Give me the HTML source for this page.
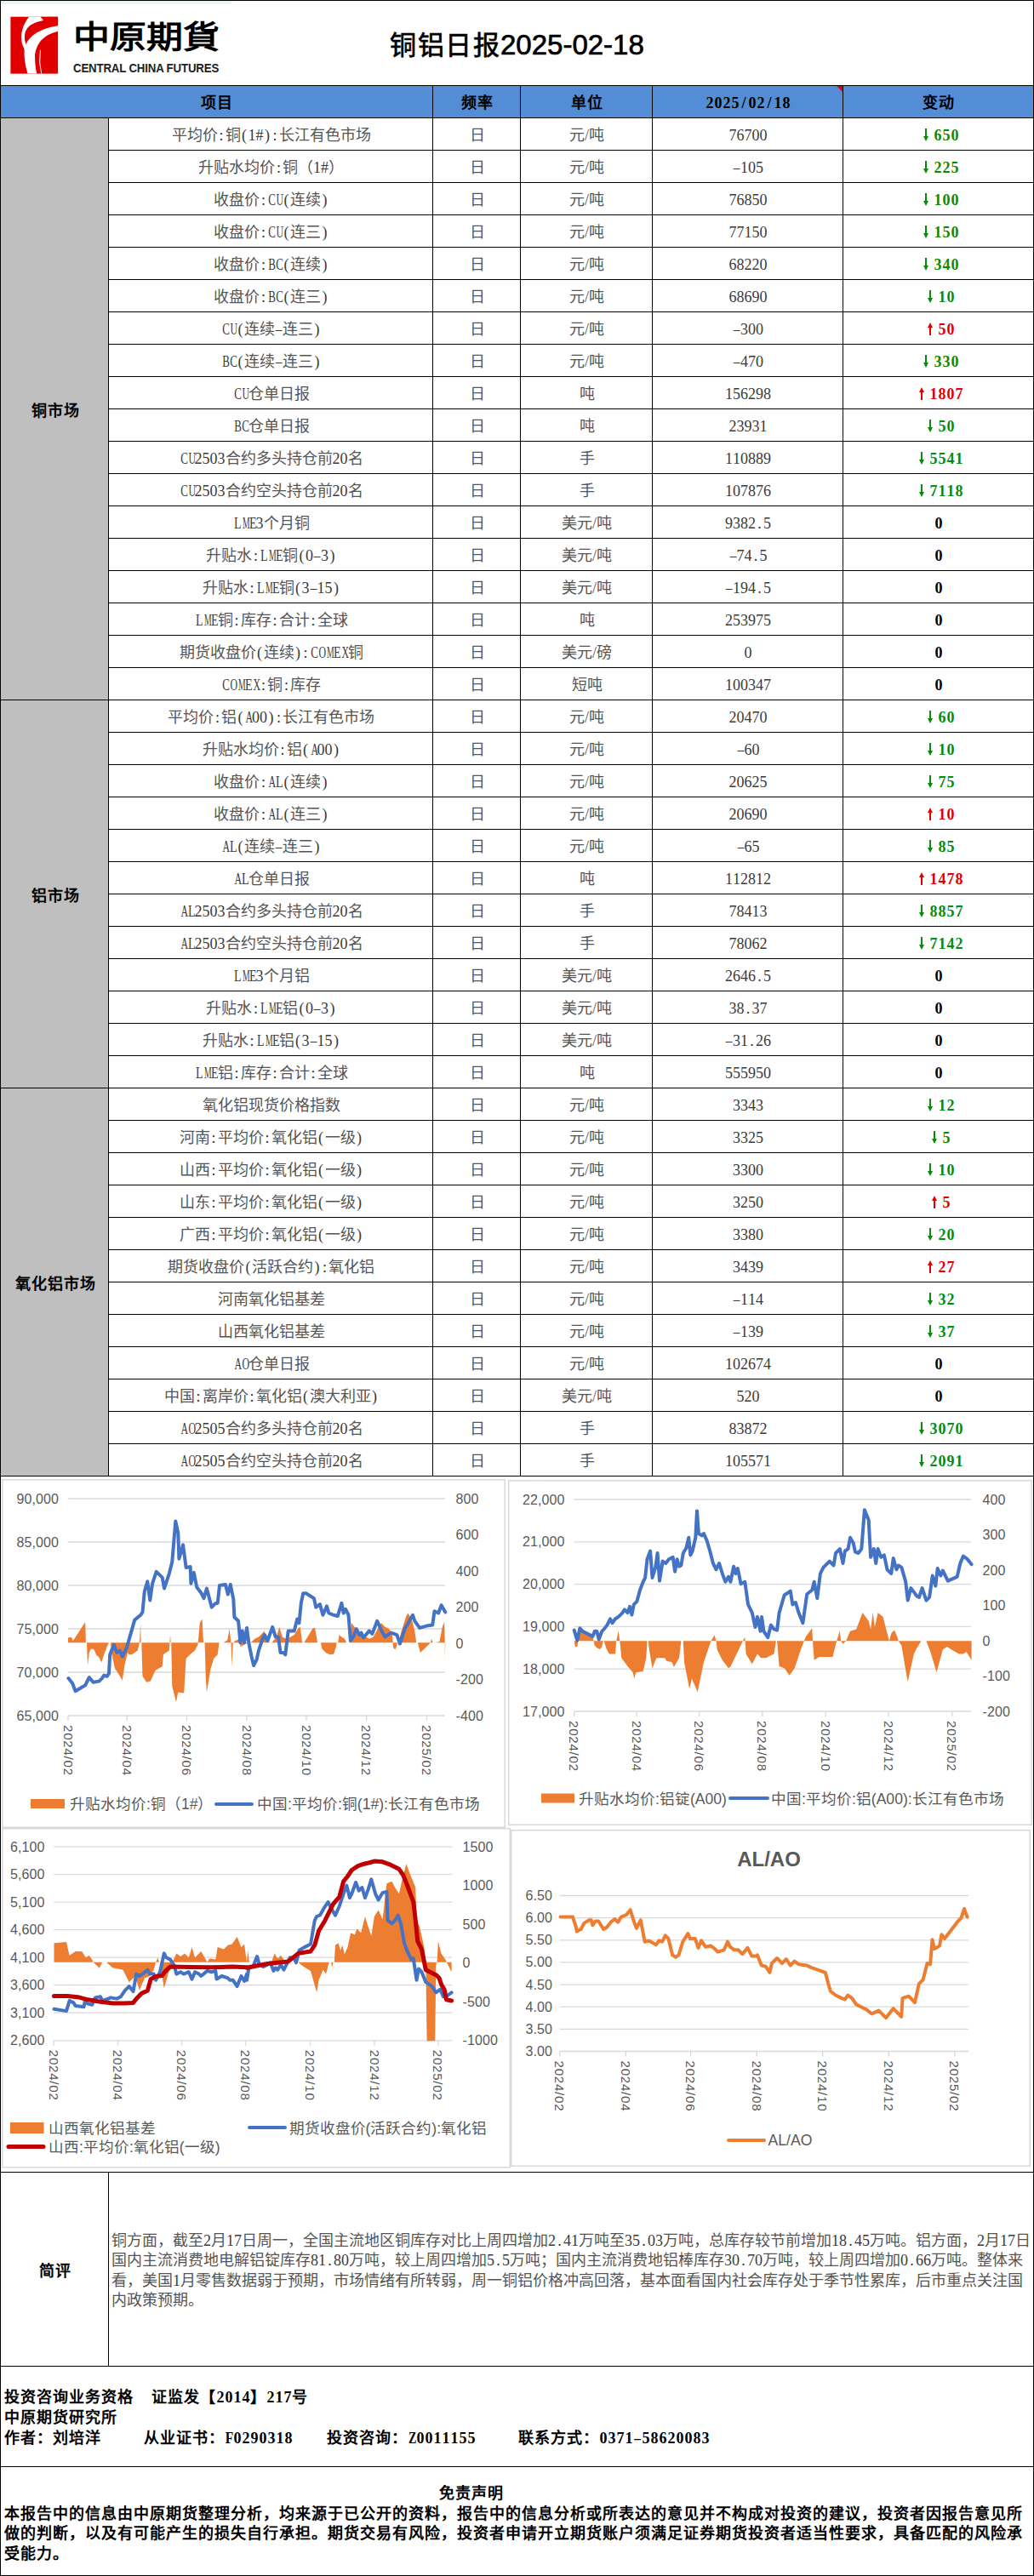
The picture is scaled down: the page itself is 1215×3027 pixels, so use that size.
<!DOCTYPE html>
<html lang="zh-CN"><head><meta charset="utf-8"><style>
html,body{margin:0;padding:0;background:#fff}
body{width:1215px;height:3027px;position:relative;overflow:hidden;font-family:"Liberation Serif",serif}
.l{position:absolute}
.th{position:absolute;height:38px;line-height:42px;padding-left:2px;box-sizing:border-box;text-align:center;font-size:18px;font-weight:bold;color:#000;letter-spacing:1px}
.td{position:absolute;height:38px;line-height:42px;padding-left:2px;box-sizing:border-box;text-align:center;font-size:18px;color:#555;white-space:nowrap}
.num{color:#444}
.chg{font-weight:bold}
.ar{display:inline-block;vertical-align:-2px;width:18px;height:17px}
.sec{position:absolute;text-align:center;padding-left:3px;padding-top:2.5px;box-sizing:border-box;font-size:18px;font-weight:bold;color:#000;letter-spacing:1px}
.cm{position:absolute;font-size:18px;color:#555;white-space:nowrap;line-height:23px}
.bt{position:absolute;font-size:18px;font-weight:bold;color:#000;white-space:nowrap;line-height:24px;letter-spacing:1px}
.title{position:absolute;font-family:"Liberation Sans",sans-serif;font-size:33px;font-weight:400;color:#000;-webkit-text-stroke:0.7px #000;white-space:nowrap;line-height:44px}
.logoT{position:absolute;font-size:37px;font-weight:bold;color:#000;white-space:nowrap;line-height:44px;letter-spacing:0;transform:scaleX(1.16);transform-origin:0 0}
.logoE{position:absolute;font-family:"Liberation Sans",sans-serif;font-size:15px;font-weight:bold;color:#222;white-space:nowrap;line-height:18px;transform-origin:0 0;transform:scaleX(0.885);letter-spacing:-0.2px}
.h{display:inline-block;width:9px;text-align:center;font-style:normal;letter-spacing:0}
.td .h,.cm .h{color:#3a3a3a}
.chg .h{color:inherit}
.bt .h,.th .h,.chg .h{width:10px}
.ct{font-family:"Liberation Sans",sans-serif}
</style></head><body>
<svg class="l" style="left:0;top:0" width="272" height="98" viewBox="0 0 272 98">
<rect x="1" y="1" width="271" height="4" fill="#EAF6F8"/>
<rect x="12.4" y="19.7" width="55.7" height="66.9" fill="#E00000"/>
<path d="M34.0 19.7 L68.1 19.7 L68.1 36.7 Q44.1 42.5 41.0 64.2 Q41.0 78.1 43.3 86.6 L32.5 86.6 Q27.9 71.9 28.6 58.0 Q19.3 39.4 34.0 19.7 Z" fill="#fff"/>
<path d="M47.6 19.7 L51.1 24.1 Q23.2 28.6 30.2 52.2 Q38.7 34.8 68.1 30.3 L68.1 19.7 Z" fill="#E00000"/>
<path d="M47.4 58.7 Q45.3 73.4 48.7 86.6" stroke="#fff" stroke-width="1" fill="none"/>
</svg><div class="logoT" style="left:86px;top:22.5px">中原期貨</div><div class="logoE" style="left:86px;top:70.5px">CENTRAL CHINA FUTURES</div>
<div class="title" style="left:458px;top:31px"><span style="font-size:31px;letter-spacing:1.5px">铜铝日报</span>2025-02-18</div>
<div class="l" style="left:0;top:100px;width:1214px;height:38px;background:#538DD5"></div>
<div class="l" style="left:0;top:138px;width:127px;height:1596px;background:#BFBFBF"></div>
<div class="th" style="left:0px;top:100px;width:508px">项目</div>
<div class="th" style="left:508px;top:100px;width:103px">频率</div>
<div class="th" style="left:611px;top:100px;width:155px">单位</div>
<div class="th" style="left:766px;top:100px;width:224px"><i class="h">2</i><i class="h">0</i><i class="h">2</i><i class="h">5</i><i class="h">/</i><i class="h">0</i><i class="h">2</i><i class="h">/</i><i class="h">1</i><i class="h">8</i></div>
<div class="th" style="left:990px;top:100px;width:224px">变动</div>
<svg class="l" style="left:983px;top:101px" width="7" height="7"><path d="M0 0 L7 0 L7 7 Z" fill="#E00000"/></svg>
<div class="td" style="left:127px;top:138px;width:381px">平均价<i class="h">:</i>铜<i class="h">(</i><i class="h">1</i><i class="h">#</i><i class="h">)</i><i class="h">:</i>长江有色市场</div>
<div class="td" style="left:508px;top:138px;width:103px">日</div>
<div class="td" style="left:611px;top:138px;width:155px">元/吨</div>
<div class="td num" style="left:766px;top:138px;width:224px"><i class="h">7</i><i class="h">6</i><i class="h">7</i><i class="h">0</i><i class="h">0</i></div>
<div class="td chg" style="left:990px;top:138px;width:224px;color:#0A8A0A"><svg class="ar" width="18" height="17" viewBox="0 0 18 17"><path d="M9 16 L12 10 L10 10 L10 1 L8 1 L8 10 L6 10 Z" fill="#0A8A0A"/></svg><i class="h">6</i><i class="h">5</i><i class="h">0</i></div>
<div class="td" style="left:127px;top:176px;width:381px">升贴水均价<i class="h">:</i>铜（<i class="h">1</i><i class="h">#</i>）</div>
<div class="td" style="left:508px;top:176px;width:103px">日</div>
<div class="td" style="left:611px;top:176px;width:155px">元/吨</div>
<div class="td num" style="left:766px;top:176px;width:224px"><i class="h" style="transform:scaleX(0.85)">&#8211;</i><i class="h">1</i><i class="h">0</i><i class="h">5</i></div>
<div class="td chg" style="left:990px;top:176px;width:224px;color:#0A8A0A"><svg class="ar" width="18" height="17" viewBox="0 0 18 17"><path d="M9 16 L12 10 L10 10 L10 1 L8 1 L8 10 L6 10 Z" fill="#0A8A0A"/></svg><i class="h">2</i><i class="h">2</i><i class="h">5</i></div>
<div class="td" style="left:127px;top:214px;width:381px">收盘价<i class="h">:</i><i class="h" style="transform:scaleX(0.72)">C</i><i class="h" style="transform:scaleX(0.66)">U</i><i class="h">(</i>连续<i class="h">)</i></div>
<div class="td" style="left:508px;top:214px;width:103px">日</div>
<div class="td" style="left:611px;top:214px;width:155px">元/吨</div>
<div class="td num" style="left:766px;top:214px;width:224px"><i class="h">7</i><i class="h">6</i><i class="h">8</i><i class="h">5</i><i class="h">0</i></div>
<div class="td chg" style="left:990px;top:214px;width:224px;color:#0A8A0A"><svg class="ar" width="18" height="17" viewBox="0 0 18 17"><path d="M9 16 L12 10 L10 10 L10 1 L8 1 L8 10 L6 10 Z" fill="#0A8A0A"/></svg><i class="h">1</i><i class="h">0</i><i class="h">0</i></div>
<div class="td" style="left:127px;top:252px;width:381px">收盘价<i class="h">:</i><i class="h" style="transform:scaleX(0.72)">C</i><i class="h" style="transform:scaleX(0.66)">U</i><i class="h">(</i>连三<i class="h">)</i></div>
<div class="td" style="left:508px;top:252px;width:103px">日</div>
<div class="td" style="left:611px;top:252px;width:155px">元/吨</div>
<div class="td num" style="left:766px;top:252px;width:224px"><i class="h">7</i><i class="h">7</i><i class="h">1</i><i class="h">5</i><i class="h">0</i></div>
<div class="td chg" style="left:990px;top:252px;width:224px;color:#0A8A0A"><svg class="ar" width="18" height="17" viewBox="0 0 18 17"><path d="M9 16 L12 10 L10 10 L10 1 L8 1 L8 10 L6 10 Z" fill="#0A8A0A"/></svg><i class="h">1</i><i class="h">5</i><i class="h">0</i></div>
<div class="td" style="left:127px;top:290px;width:381px">收盘价<i class="h">:</i><i class="h" style="transform:scaleX(0.72)">B</i><i class="h" style="transform:scaleX(0.72)">C</i><i class="h">(</i>连续<i class="h">)</i></div>
<div class="td" style="left:508px;top:290px;width:103px">日</div>
<div class="td" style="left:611px;top:290px;width:155px">元/吨</div>
<div class="td num" style="left:766px;top:290px;width:224px"><i class="h">6</i><i class="h">8</i><i class="h">2</i><i class="h">2</i><i class="h">0</i></div>
<div class="td chg" style="left:990px;top:290px;width:224px;color:#0A8A0A"><svg class="ar" width="18" height="17" viewBox="0 0 18 17"><path d="M9 16 L12 10 L10 10 L10 1 L8 1 L8 10 L6 10 Z" fill="#0A8A0A"/></svg><i class="h">3</i><i class="h">4</i><i class="h">0</i></div>
<div class="td" style="left:127px;top:328px;width:381px">收盘价<i class="h">:</i><i class="h" style="transform:scaleX(0.72)">B</i><i class="h" style="transform:scaleX(0.72)">C</i><i class="h">(</i>连三<i class="h">)</i></div>
<div class="td" style="left:508px;top:328px;width:103px">日</div>
<div class="td" style="left:611px;top:328px;width:155px">元/吨</div>
<div class="td num" style="left:766px;top:328px;width:224px"><i class="h">6</i><i class="h">8</i><i class="h">6</i><i class="h">9</i><i class="h">0</i></div>
<div class="td chg" style="left:990px;top:328px;width:224px;color:#0A8A0A"><svg class="ar" width="18" height="17" viewBox="0 0 18 17"><path d="M9 16 L12 10 L10 10 L10 1 L8 1 L8 10 L6 10 Z" fill="#0A8A0A"/></svg><i class="h">1</i><i class="h">0</i></div>
<div class="td" style="left:127px;top:366px;width:381px"><i class="h" style="transform:scaleX(0.72)">C</i><i class="h" style="transform:scaleX(0.66)">U</i><i class="h">(</i>连续<i class="h" style="transform:scaleX(0.85)">&#8211;</i>连三<i class="h">)</i></div>
<div class="td" style="left:508px;top:366px;width:103px">日</div>
<div class="td" style="left:611px;top:366px;width:155px">元/吨</div>
<div class="td num" style="left:766px;top:366px;width:224px"><i class="h" style="transform:scaleX(0.85)">&#8211;</i><i class="h">3</i><i class="h">0</i><i class="h">0</i></div>
<div class="td chg" style="left:990px;top:366px;width:224px;color:#E00000"><svg class="ar" width="18" height="17" viewBox="0 0 18 17"><path d="M9 1 L12 7 L10 7 L10 16 L8 16 L8 7 L6 7 Z" fill="#E00000"/></svg><i class="h">5</i><i class="h">0</i></div>
<div class="td" style="left:127px;top:404px;width:381px"><i class="h" style="transform:scaleX(0.72)">B</i><i class="h" style="transform:scaleX(0.72)">C</i><i class="h">(</i>连续<i class="h" style="transform:scaleX(0.85)">&#8211;</i>连三<i class="h">)</i></div>
<div class="td" style="left:508px;top:404px;width:103px">日</div>
<div class="td" style="left:611px;top:404px;width:155px">元/吨</div>
<div class="td num" style="left:766px;top:404px;width:224px"><i class="h" style="transform:scaleX(0.85)">&#8211;</i><i class="h">4</i><i class="h">7</i><i class="h">0</i></div>
<div class="td chg" style="left:990px;top:404px;width:224px;color:#0A8A0A"><svg class="ar" width="18" height="17" viewBox="0 0 18 17"><path d="M9 16 L12 10 L10 10 L10 1 L8 1 L8 10 L6 10 Z" fill="#0A8A0A"/></svg><i class="h">3</i><i class="h">3</i><i class="h">0</i></div>
<div class="td" style="left:127px;top:442px;width:381px"><i class="h" style="transform:scaleX(0.72)">C</i><i class="h" style="transform:scaleX(0.66)">U</i>仓单日报</div>
<div class="td" style="left:508px;top:442px;width:103px">日</div>
<div class="td" style="left:611px;top:442px;width:155px">吨</div>
<div class="td num" style="left:766px;top:442px;width:224px"><i class="h">1</i><i class="h">5</i><i class="h">6</i><i class="h">2</i><i class="h">9</i><i class="h">8</i></div>
<div class="td chg" style="left:990px;top:442px;width:224px;color:#E00000"><svg class="ar" width="18" height="17" viewBox="0 0 18 17"><path d="M9 1 L12 7 L10 7 L10 16 L8 16 L8 7 L6 7 Z" fill="#E00000"/></svg><i class="h">1</i><i class="h">8</i><i class="h">0</i><i class="h">7</i></div>
<div class="td" style="left:127px;top:480px;width:381px"><i class="h" style="transform:scaleX(0.72)">B</i><i class="h" style="transform:scaleX(0.72)">C</i>仓单日报</div>
<div class="td" style="left:508px;top:480px;width:103px">日</div>
<div class="td" style="left:611px;top:480px;width:155px">吨</div>
<div class="td num" style="left:766px;top:480px;width:224px"><i class="h">2</i><i class="h">3</i><i class="h">9</i><i class="h">3</i><i class="h">1</i></div>
<div class="td chg" style="left:990px;top:480px;width:224px;color:#0A8A0A"><svg class="ar" width="18" height="17" viewBox="0 0 18 17"><path d="M9 16 L12 10 L10 10 L10 1 L8 1 L8 10 L6 10 Z" fill="#0A8A0A"/></svg><i class="h">5</i><i class="h">0</i></div>
<div class="td" style="left:127px;top:518px;width:381px"><i class="h" style="transform:scaleX(0.72)">C</i><i class="h" style="transform:scaleX(0.66)">U</i><i class="h">2</i><i class="h">5</i><i class="h">0</i><i class="h">3</i>合约多头持仓前<i class="h">2</i><i class="h">0</i>名</div>
<div class="td" style="left:508px;top:518px;width:103px">日</div>
<div class="td" style="left:611px;top:518px;width:155px">手</div>
<div class="td num" style="left:766px;top:518px;width:224px"><i class="h">1</i><i class="h">1</i><i class="h">0</i><i class="h">8</i><i class="h">8</i><i class="h">9</i></div>
<div class="td chg" style="left:990px;top:518px;width:224px;color:#0A8A0A"><svg class="ar" width="18" height="17" viewBox="0 0 18 17"><path d="M9 16 L12 10 L10 10 L10 1 L8 1 L8 10 L6 10 Z" fill="#0A8A0A"/></svg><i class="h">5</i><i class="h">5</i><i class="h">4</i><i class="h">1</i></div>
<div class="td" style="left:127px;top:556px;width:381px"><i class="h" style="transform:scaleX(0.72)">C</i><i class="h" style="transform:scaleX(0.66)">U</i><i class="h">2</i><i class="h">5</i><i class="h">0</i><i class="h">3</i>合约空头持仓前<i class="h">2</i><i class="h">0</i>名</div>
<div class="td" style="left:508px;top:556px;width:103px">日</div>
<div class="td" style="left:611px;top:556px;width:155px">手</div>
<div class="td num" style="left:766px;top:556px;width:224px"><i class="h">1</i><i class="h">0</i><i class="h">7</i><i class="h">8</i><i class="h">7</i><i class="h">6</i></div>
<div class="td chg" style="left:990px;top:556px;width:224px;color:#0A8A0A"><svg class="ar" width="18" height="17" viewBox="0 0 18 17"><path d="M9 16 L12 10 L10 10 L10 1 L8 1 L8 10 L6 10 Z" fill="#0A8A0A"/></svg><i class="h">7</i><i class="h">1</i><i class="h">1</i><i class="h">8</i></div>
<div class="td" style="left:127px;top:594px;width:381px"><i class="h" style="transform:scaleX(0.78)">L</i><i class="h" style="transform:scaleX(0.54)">M</i><i class="h" style="transform:scaleX(0.78)">E</i><i class="h">3</i>个月铜</div>
<div class="td" style="left:508px;top:594px;width:103px">日</div>
<div class="td" style="left:611px;top:594px;width:155px">美元/吨</div>
<div class="td num" style="left:766px;top:594px;width:224px"><i class="h">9</i><i class="h">3</i><i class="h">8</i><i class="h">2</i><i class="h">.</i><i class="h">5</i></div>
<div class="td chg" style="left:990px;top:594px;width:224px;color:#000"><i class="h">0</i></div>
<div class="td" style="left:127px;top:632px;width:381px">升贴水<i class="h">:</i><i class="h" style="transform:scaleX(0.78)">L</i><i class="h" style="transform:scaleX(0.54)">M</i><i class="h" style="transform:scaleX(0.78)">E</i>铜<i class="h">(</i><i class="h">0</i><i class="h" style="transform:scaleX(0.85)">&#8211;</i><i class="h">3</i><i class="h">)</i></div>
<div class="td" style="left:508px;top:632px;width:103px">日</div>
<div class="td" style="left:611px;top:632px;width:155px">美元/吨</div>
<div class="td num" style="left:766px;top:632px;width:224px"><i class="h" style="transform:scaleX(0.85)">&#8211;</i><i class="h">7</i><i class="h">4</i><i class="h">.</i><i class="h">5</i></div>
<div class="td chg" style="left:990px;top:632px;width:224px;color:#000"><i class="h">0</i></div>
<div class="td" style="left:127px;top:670px;width:381px">升贴水<i class="h">:</i><i class="h" style="transform:scaleX(0.78)">L</i><i class="h" style="transform:scaleX(0.54)">M</i><i class="h" style="transform:scaleX(0.78)">E</i>铜<i class="h">(</i><i class="h">3</i><i class="h" style="transform:scaleX(0.85)">&#8211;</i><i class="h">1</i><i class="h">5</i><i class="h">)</i></div>
<div class="td" style="left:508px;top:670px;width:103px">日</div>
<div class="td" style="left:611px;top:670px;width:155px">美元/吨</div>
<div class="td num" style="left:766px;top:670px;width:224px"><i class="h" style="transform:scaleX(0.85)">&#8211;</i><i class="h">1</i><i class="h">9</i><i class="h">4</i><i class="h">.</i><i class="h">5</i></div>
<div class="td chg" style="left:990px;top:670px;width:224px;color:#000"><i class="h">0</i></div>
<div class="td" style="left:127px;top:708px;width:381px"><i class="h" style="transform:scaleX(0.78)">L</i><i class="h" style="transform:scaleX(0.54)">M</i><i class="h" style="transform:scaleX(0.78)">E</i>铜<i class="h">:</i>库存<i class="h">:</i>合计<i class="h">:</i>全球</div>
<div class="td" style="left:508px;top:708px;width:103px">日</div>
<div class="td" style="left:611px;top:708px;width:155px">吨</div>
<div class="td num" style="left:766px;top:708px;width:224px"><i class="h">2</i><i class="h">5</i><i class="h">3</i><i class="h">9</i><i class="h">7</i><i class="h">5</i></div>
<div class="td chg" style="left:990px;top:708px;width:224px;color:#000"><i class="h">0</i></div>
<div class="td" style="left:127px;top:746px;width:381px">期货收盘价<i class="h">(</i>连续<i class="h">)</i><i class="h">:</i><i class="h" style="transform:scaleX(0.72)">C</i><i class="h" style="transform:scaleX(0.66)">O</i><i class="h" style="transform:scaleX(0.54)">M</i><i class="h" style="transform:scaleX(0.78)">E</i><i class="h" style="transform:scaleX(0.66)">X</i>铜</div>
<div class="td" style="left:508px;top:746px;width:103px">日</div>
<div class="td" style="left:611px;top:746px;width:155px">美元/磅</div>
<div class="td num" style="left:766px;top:746px;width:224px"><i class="h">0</i></div>
<div class="td chg" style="left:990px;top:746px;width:224px;color:#000"><i class="h">0</i></div>
<div class="td" style="left:127px;top:784px;width:381px"><i class="h" style="transform:scaleX(0.72)">C</i><i class="h" style="transform:scaleX(0.66)">O</i><i class="h" style="transform:scaleX(0.54)">M</i><i class="h" style="transform:scaleX(0.78)">E</i><i class="h" style="transform:scaleX(0.66)">X</i><i class="h">:</i>铜<i class="h">:</i>库存</div>
<div class="td" style="left:508px;top:784px;width:103px">日</div>
<div class="td" style="left:611px;top:784px;width:155px">短吨</div>
<div class="td num" style="left:766px;top:784px;width:224px"><i class="h">1</i><i class="h">0</i><i class="h">0</i><i class="h">3</i><i class="h">4</i><i class="h">7</i></div>
<div class="td chg" style="left:990px;top:784px;width:224px;color:#000"><i class="h">0</i></div>
<div class="td" style="left:127px;top:822px;width:381px">平均价<i class="h">:</i>铝<i class="h">(</i><i class="h" style="transform:scaleX(0.66)">A</i><i class="h">0</i><i class="h">0</i><i class="h">)</i><i class="h">:</i>长江有色市场</div>
<div class="td" style="left:508px;top:822px;width:103px">日</div>
<div class="td" style="left:611px;top:822px;width:155px">元/吨</div>
<div class="td num" style="left:766px;top:822px;width:224px"><i class="h">2</i><i class="h">0</i><i class="h">4</i><i class="h">7</i><i class="h">0</i></div>
<div class="td chg" style="left:990px;top:822px;width:224px;color:#0A8A0A"><svg class="ar" width="18" height="17" viewBox="0 0 18 17"><path d="M9 16 L12 10 L10 10 L10 1 L8 1 L8 10 L6 10 Z" fill="#0A8A0A"/></svg><i class="h">6</i><i class="h">0</i></div>
<div class="td" style="left:127px;top:860px;width:381px">升贴水均价<i class="h">:</i>铝<i class="h">(</i><i class="h" style="transform:scaleX(0.66)">A</i><i class="h">0</i><i class="h">0</i><i class="h">)</i></div>
<div class="td" style="left:508px;top:860px;width:103px">日</div>
<div class="td" style="left:611px;top:860px;width:155px">元/吨</div>
<div class="td num" style="left:766px;top:860px;width:224px"><i class="h" style="transform:scaleX(0.85)">&#8211;</i><i class="h">6</i><i class="h">0</i></div>
<div class="td chg" style="left:990px;top:860px;width:224px;color:#0A8A0A"><svg class="ar" width="18" height="17" viewBox="0 0 18 17"><path d="M9 16 L12 10 L10 10 L10 1 L8 1 L8 10 L6 10 Z" fill="#0A8A0A"/></svg><i class="h">1</i><i class="h">0</i></div>
<div class="td" style="left:127px;top:898px;width:381px">收盘价<i class="h">:</i><i class="h" style="transform:scaleX(0.66)">A</i><i class="h" style="transform:scaleX(0.78)">L</i><i class="h">(</i>连续<i class="h">)</i></div>
<div class="td" style="left:508px;top:898px;width:103px">日</div>
<div class="td" style="left:611px;top:898px;width:155px">元/吨</div>
<div class="td num" style="left:766px;top:898px;width:224px"><i class="h">2</i><i class="h">0</i><i class="h">6</i><i class="h">2</i><i class="h">5</i></div>
<div class="td chg" style="left:990px;top:898px;width:224px;color:#0A8A0A"><svg class="ar" width="18" height="17" viewBox="0 0 18 17"><path d="M9 16 L12 10 L10 10 L10 1 L8 1 L8 10 L6 10 Z" fill="#0A8A0A"/></svg><i class="h">7</i><i class="h">5</i></div>
<div class="td" style="left:127px;top:936px;width:381px">收盘价<i class="h">:</i><i class="h" style="transform:scaleX(0.66)">A</i><i class="h" style="transform:scaleX(0.78)">L</i><i class="h">(</i>连三<i class="h">)</i></div>
<div class="td" style="left:508px;top:936px;width:103px">日</div>
<div class="td" style="left:611px;top:936px;width:155px">元/吨</div>
<div class="td num" style="left:766px;top:936px;width:224px"><i class="h">2</i><i class="h">0</i><i class="h">6</i><i class="h">9</i><i class="h">0</i></div>
<div class="td chg" style="left:990px;top:936px;width:224px;color:#E00000"><svg class="ar" width="18" height="17" viewBox="0 0 18 17"><path d="M9 1 L12 7 L10 7 L10 16 L8 16 L8 7 L6 7 Z" fill="#E00000"/></svg><i class="h">1</i><i class="h">0</i></div>
<div class="td" style="left:127px;top:974px;width:381px"><i class="h" style="transform:scaleX(0.66)">A</i><i class="h" style="transform:scaleX(0.78)">L</i><i class="h">(</i>连续<i class="h" style="transform:scaleX(0.85)">&#8211;</i>连三<i class="h">)</i></div>
<div class="td" style="left:508px;top:974px;width:103px">日</div>
<div class="td" style="left:611px;top:974px;width:155px">元/吨</div>
<div class="td num" style="left:766px;top:974px;width:224px"><i class="h" style="transform:scaleX(0.85)">&#8211;</i><i class="h">6</i><i class="h">5</i></div>
<div class="td chg" style="left:990px;top:974px;width:224px;color:#0A8A0A"><svg class="ar" width="18" height="17" viewBox="0 0 18 17"><path d="M9 16 L12 10 L10 10 L10 1 L8 1 L8 10 L6 10 Z" fill="#0A8A0A"/></svg><i class="h">8</i><i class="h">5</i></div>
<div class="td" style="left:127px;top:1012px;width:381px"><i class="h" style="transform:scaleX(0.66)">A</i><i class="h" style="transform:scaleX(0.78)">L</i>仓单日报</div>
<div class="td" style="left:508px;top:1012px;width:103px">日</div>
<div class="td" style="left:611px;top:1012px;width:155px">吨</div>
<div class="td num" style="left:766px;top:1012px;width:224px"><i class="h">1</i><i class="h">1</i><i class="h">2</i><i class="h">8</i><i class="h">1</i><i class="h">2</i></div>
<div class="td chg" style="left:990px;top:1012px;width:224px;color:#E00000"><svg class="ar" width="18" height="17" viewBox="0 0 18 17"><path d="M9 1 L12 7 L10 7 L10 16 L8 16 L8 7 L6 7 Z" fill="#E00000"/></svg><i class="h">1</i><i class="h">4</i><i class="h">7</i><i class="h">8</i></div>
<div class="td" style="left:127px;top:1050px;width:381px"><i class="h" style="transform:scaleX(0.66)">A</i><i class="h" style="transform:scaleX(0.78)">L</i><i class="h">2</i><i class="h">5</i><i class="h">0</i><i class="h">3</i>合约多头持仓前<i class="h">2</i><i class="h">0</i>名</div>
<div class="td" style="left:508px;top:1050px;width:103px">日</div>
<div class="td" style="left:611px;top:1050px;width:155px">手</div>
<div class="td num" style="left:766px;top:1050px;width:224px"><i class="h">7</i><i class="h">8</i><i class="h">4</i><i class="h">1</i><i class="h">3</i></div>
<div class="td chg" style="left:990px;top:1050px;width:224px;color:#0A8A0A"><svg class="ar" width="18" height="17" viewBox="0 0 18 17"><path d="M9 16 L12 10 L10 10 L10 1 L8 1 L8 10 L6 10 Z" fill="#0A8A0A"/></svg><i class="h">8</i><i class="h">8</i><i class="h">5</i><i class="h">7</i></div>
<div class="td" style="left:127px;top:1088px;width:381px"><i class="h" style="transform:scaleX(0.66)">A</i><i class="h" style="transform:scaleX(0.78)">L</i><i class="h">2</i><i class="h">5</i><i class="h">0</i><i class="h">3</i>合约空头持仓前<i class="h">2</i><i class="h">0</i>名</div>
<div class="td" style="left:508px;top:1088px;width:103px">日</div>
<div class="td" style="left:611px;top:1088px;width:155px">手</div>
<div class="td num" style="left:766px;top:1088px;width:224px"><i class="h">7</i><i class="h">8</i><i class="h">0</i><i class="h">6</i><i class="h">2</i></div>
<div class="td chg" style="left:990px;top:1088px;width:224px;color:#0A8A0A"><svg class="ar" width="18" height="17" viewBox="0 0 18 17"><path d="M9 16 L12 10 L10 10 L10 1 L8 1 L8 10 L6 10 Z" fill="#0A8A0A"/></svg><i class="h">7</i><i class="h">1</i><i class="h">4</i><i class="h">2</i></div>
<div class="td" style="left:127px;top:1126px;width:381px"><i class="h" style="transform:scaleX(0.78)">L</i><i class="h" style="transform:scaleX(0.54)">M</i><i class="h" style="transform:scaleX(0.78)">E</i><i class="h">3</i>个月铝</div>
<div class="td" style="left:508px;top:1126px;width:103px">日</div>
<div class="td" style="left:611px;top:1126px;width:155px">美元/吨</div>
<div class="td num" style="left:766px;top:1126px;width:224px"><i class="h">2</i><i class="h">6</i><i class="h">4</i><i class="h">6</i><i class="h">.</i><i class="h">5</i></div>
<div class="td chg" style="left:990px;top:1126px;width:224px;color:#000"><i class="h">0</i></div>
<div class="td" style="left:127px;top:1164px;width:381px">升贴水<i class="h">:</i><i class="h" style="transform:scaleX(0.78)">L</i><i class="h" style="transform:scaleX(0.54)">M</i><i class="h" style="transform:scaleX(0.78)">E</i>铝<i class="h">(</i><i class="h">0</i><i class="h" style="transform:scaleX(0.85)">&#8211;</i><i class="h">3</i><i class="h">)</i></div>
<div class="td" style="left:508px;top:1164px;width:103px">日</div>
<div class="td" style="left:611px;top:1164px;width:155px">美元/吨</div>
<div class="td num" style="left:766px;top:1164px;width:224px"><i class="h">3</i><i class="h">8</i><i class="h">.</i><i class="h">3</i><i class="h">7</i></div>
<div class="td chg" style="left:990px;top:1164px;width:224px;color:#000"><i class="h">0</i></div>
<div class="td" style="left:127px;top:1202px;width:381px">升贴水<i class="h">:</i><i class="h" style="transform:scaleX(0.78)">L</i><i class="h" style="transform:scaleX(0.54)">M</i><i class="h" style="transform:scaleX(0.78)">E</i>铝<i class="h">(</i><i class="h">3</i><i class="h" style="transform:scaleX(0.85)">&#8211;</i><i class="h">1</i><i class="h">5</i><i class="h">)</i></div>
<div class="td" style="left:508px;top:1202px;width:103px">日</div>
<div class="td" style="left:611px;top:1202px;width:155px">美元/吨</div>
<div class="td num" style="left:766px;top:1202px;width:224px"><i class="h" style="transform:scaleX(0.85)">&#8211;</i><i class="h">3</i><i class="h">1</i><i class="h">.</i><i class="h">2</i><i class="h">6</i></div>
<div class="td chg" style="left:990px;top:1202px;width:224px;color:#000"><i class="h">0</i></div>
<div class="td" style="left:127px;top:1240px;width:381px"><i class="h" style="transform:scaleX(0.78)">L</i><i class="h" style="transform:scaleX(0.54)">M</i><i class="h" style="transform:scaleX(0.78)">E</i>铝<i class="h">:</i>库存<i class="h">:</i>合计<i class="h">:</i>全球</div>
<div class="td" style="left:508px;top:1240px;width:103px">日</div>
<div class="td" style="left:611px;top:1240px;width:155px">吨</div>
<div class="td num" style="left:766px;top:1240px;width:224px"><i class="h">5</i><i class="h">5</i><i class="h">5</i><i class="h">9</i><i class="h">5</i><i class="h">0</i></div>
<div class="td chg" style="left:990px;top:1240px;width:224px;color:#000"><i class="h">0</i></div>
<div class="td" style="left:127px;top:1278px;width:381px">氧化铝现货价格指数</div>
<div class="td" style="left:508px;top:1278px;width:103px">日</div>
<div class="td" style="left:611px;top:1278px;width:155px">元/吨</div>
<div class="td num" style="left:766px;top:1278px;width:224px"><i class="h">3</i><i class="h">3</i><i class="h">4</i><i class="h">3</i></div>
<div class="td chg" style="left:990px;top:1278px;width:224px;color:#0A8A0A"><svg class="ar" width="18" height="17" viewBox="0 0 18 17"><path d="M9 16 L12 10 L10 10 L10 1 L8 1 L8 10 L6 10 Z" fill="#0A8A0A"/></svg><i class="h">1</i><i class="h">2</i></div>
<div class="td" style="left:127px;top:1316px;width:381px">河南<i class="h">:</i>平均价<i class="h">:</i>氧化铝<i class="h">(</i>一级<i class="h">)</i></div>
<div class="td" style="left:508px;top:1316px;width:103px">日</div>
<div class="td" style="left:611px;top:1316px;width:155px">元/吨</div>
<div class="td num" style="left:766px;top:1316px;width:224px"><i class="h">3</i><i class="h">3</i><i class="h">2</i><i class="h">5</i></div>
<div class="td chg" style="left:990px;top:1316px;width:224px;color:#0A8A0A"><svg class="ar" width="18" height="17" viewBox="0 0 18 17"><path d="M9 16 L12 10 L10 10 L10 1 L8 1 L8 10 L6 10 Z" fill="#0A8A0A"/></svg><i class="h">5</i></div>
<div class="td" style="left:127px;top:1354px;width:381px">山西<i class="h">:</i>平均价<i class="h">:</i>氧化铝<i class="h">(</i>一级<i class="h">)</i></div>
<div class="td" style="left:508px;top:1354px;width:103px">日</div>
<div class="td" style="left:611px;top:1354px;width:155px">元/吨</div>
<div class="td num" style="left:766px;top:1354px;width:224px"><i class="h">3</i><i class="h">3</i><i class="h">0</i><i class="h">0</i></div>
<div class="td chg" style="left:990px;top:1354px;width:224px;color:#0A8A0A"><svg class="ar" width="18" height="17" viewBox="0 0 18 17"><path d="M9 16 L12 10 L10 10 L10 1 L8 1 L8 10 L6 10 Z" fill="#0A8A0A"/></svg><i class="h">1</i><i class="h">0</i></div>
<div class="td" style="left:127px;top:1392px;width:381px">山东<i class="h">:</i>平均价<i class="h">:</i>氧化铝<i class="h">(</i>一级<i class="h">)</i></div>
<div class="td" style="left:508px;top:1392px;width:103px">日</div>
<div class="td" style="left:611px;top:1392px;width:155px">元/吨</div>
<div class="td num" style="left:766px;top:1392px;width:224px"><i class="h">3</i><i class="h">2</i><i class="h">5</i><i class="h">0</i></div>
<div class="td chg" style="left:990px;top:1392px;width:224px;color:#E00000"><svg class="ar" width="18" height="17" viewBox="0 0 18 17"><path d="M9 1 L12 7 L10 7 L10 16 L8 16 L8 7 L6 7 Z" fill="#E00000"/></svg><i class="h">5</i></div>
<div class="td" style="left:127px;top:1430px;width:381px">广西<i class="h">:</i>平均价<i class="h">:</i>氧化铝<i class="h">(</i>一级<i class="h">)</i></div>
<div class="td" style="left:508px;top:1430px;width:103px">日</div>
<div class="td" style="left:611px;top:1430px;width:155px">元/吨</div>
<div class="td num" style="left:766px;top:1430px;width:224px"><i class="h">3</i><i class="h">3</i><i class="h">8</i><i class="h">0</i></div>
<div class="td chg" style="left:990px;top:1430px;width:224px;color:#0A8A0A"><svg class="ar" width="18" height="17" viewBox="0 0 18 17"><path d="M9 16 L12 10 L10 10 L10 1 L8 1 L8 10 L6 10 Z" fill="#0A8A0A"/></svg><i class="h">2</i><i class="h">0</i></div>
<div class="td" style="left:127px;top:1468px;width:381px">期货收盘价<i class="h">(</i>活跃合约<i class="h">)</i><i class="h">:</i>氧化铝</div>
<div class="td" style="left:508px;top:1468px;width:103px">日</div>
<div class="td" style="left:611px;top:1468px;width:155px">元/吨</div>
<div class="td num" style="left:766px;top:1468px;width:224px"><i class="h">3</i><i class="h">4</i><i class="h">3</i><i class="h">9</i></div>
<div class="td chg" style="left:990px;top:1468px;width:224px;color:#E00000"><svg class="ar" width="18" height="17" viewBox="0 0 18 17"><path d="M9 1 L12 7 L10 7 L10 16 L8 16 L8 7 L6 7 Z" fill="#E00000"/></svg><i class="h">2</i><i class="h">7</i></div>
<div class="td" style="left:127px;top:1506px;width:381px">河南氧化铝基差</div>
<div class="td" style="left:508px;top:1506px;width:103px">日</div>
<div class="td" style="left:611px;top:1506px;width:155px">元/吨</div>
<div class="td num" style="left:766px;top:1506px;width:224px"><i class="h" style="transform:scaleX(0.85)">&#8211;</i><i class="h">1</i><i class="h">1</i><i class="h">4</i></div>
<div class="td chg" style="left:990px;top:1506px;width:224px;color:#0A8A0A"><svg class="ar" width="18" height="17" viewBox="0 0 18 17"><path d="M9 16 L12 10 L10 10 L10 1 L8 1 L8 10 L6 10 Z" fill="#0A8A0A"/></svg><i class="h">3</i><i class="h">2</i></div>
<div class="td" style="left:127px;top:1544px;width:381px">山西氧化铝基差</div>
<div class="td" style="left:508px;top:1544px;width:103px">日</div>
<div class="td" style="left:611px;top:1544px;width:155px">元/吨</div>
<div class="td num" style="left:766px;top:1544px;width:224px"><i class="h" style="transform:scaleX(0.85)">&#8211;</i><i class="h">1</i><i class="h">3</i><i class="h">9</i></div>
<div class="td chg" style="left:990px;top:1544px;width:224px;color:#0A8A0A"><svg class="ar" width="18" height="17" viewBox="0 0 18 17"><path d="M9 16 L12 10 L10 10 L10 1 L8 1 L8 10 L6 10 Z" fill="#0A8A0A"/></svg><i class="h">3</i><i class="h">7</i></div>
<div class="td" style="left:127px;top:1582px;width:381px"><i class="h" style="transform:scaleX(0.66)">A</i><i class="h" style="transform:scaleX(0.66)">O</i>仓单日报</div>
<div class="td" style="left:508px;top:1582px;width:103px">日</div>
<div class="td" style="left:611px;top:1582px;width:155px">元/吨</div>
<div class="td num" style="left:766px;top:1582px;width:224px"><i class="h">1</i><i class="h">0</i><i class="h">2</i><i class="h">6</i><i class="h">7</i><i class="h">4</i></div>
<div class="td chg" style="left:990px;top:1582px;width:224px;color:#000"><i class="h">0</i></div>
<div class="td" style="left:127px;top:1620px;width:381px">中国<i class="h">:</i>离岸价<i class="h">:</i>氧化铝<i class="h">(</i>澳大利亚<i class="h">)</i></div>
<div class="td" style="left:508px;top:1620px;width:103px">日</div>
<div class="td" style="left:611px;top:1620px;width:155px">美元/吨</div>
<div class="td num" style="left:766px;top:1620px;width:224px"><i class="h">5</i><i class="h">2</i><i class="h">0</i></div>
<div class="td chg" style="left:990px;top:1620px;width:224px;color:#000"><i class="h">0</i></div>
<div class="td" style="left:127px;top:1658px;width:381px"><i class="h" style="transform:scaleX(0.66)">A</i><i class="h" style="transform:scaleX(0.66)">O</i><i class="h">2</i><i class="h">5</i><i class="h">0</i><i class="h">5</i>合约多头持仓前<i class="h">2</i><i class="h">0</i>名</div>
<div class="td" style="left:508px;top:1658px;width:103px">日</div>
<div class="td" style="left:611px;top:1658px;width:155px">手</div>
<div class="td num" style="left:766px;top:1658px;width:224px"><i class="h">8</i><i class="h">3</i><i class="h">8</i><i class="h">7</i><i class="h">2</i></div>
<div class="td chg" style="left:990px;top:1658px;width:224px;color:#0A8A0A"><svg class="ar" width="18" height="17" viewBox="0 0 18 17"><path d="M9 16 L12 10 L10 10 L10 1 L8 1 L8 10 L6 10 Z" fill="#0A8A0A"/></svg><i class="h">3</i><i class="h">0</i><i class="h">7</i><i class="h">0</i></div>
<div class="td" style="left:127px;top:1696px;width:381px"><i class="h" style="transform:scaleX(0.66)">A</i><i class="h" style="transform:scaleX(0.66)">O</i><i class="h">2</i><i class="h">5</i><i class="h">0</i><i class="h">5</i>合约空头持仓前<i class="h">2</i><i class="h">0</i>名</div>
<div class="td" style="left:508px;top:1696px;width:103px">日</div>
<div class="td" style="left:611px;top:1696px;width:155px">手</div>
<div class="td num" style="left:766px;top:1696px;width:224px"><i class="h">1</i><i class="h">0</i><i class="h">5</i><i class="h">5</i><i class="h">7</i><i class="h">1</i></div>
<div class="td chg" style="left:990px;top:1696px;width:224px;color:#0A8A0A"><svg class="ar" width="18" height="17" viewBox="0 0 18 17"><path d="M9 16 L12 10 L10 10 L10 1 L8 1 L8 10 L6 10 Z" fill="#0A8A0A"/></svg><i class="h">2</i><i class="h">0</i><i class="h">9</i><i class="h">1</i></div>
<div class="sec" style="left:0;top:138px;width:127px;height:684px;line-height:684px">铜市场</div>
<div class="sec" style="left:0;top:822px;width:127px;height:456px;line-height:456px">铝市场</div>
<div class="sec" style="left:0;top:1278px;width:127px;height:456px;line-height:456px">氧化铝市场</div>
<div class="l" style="left:0px;top:100px;width:1214px;height:1px;background:#000"></div>
<div class="l" style="left:0px;top:138px;width:1214px;height:1px;background:#000"></div>
<div class="l" style="left:127px;top:176px;width:1087px;height:1px;background:#000"></div>
<div class="l" style="left:127px;top:214px;width:1087px;height:1px;background:#000"></div>
<div class="l" style="left:127px;top:252px;width:1087px;height:1px;background:#000"></div>
<div class="l" style="left:127px;top:290px;width:1087px;height:1px;background:#000"></div>
<div class="l" style="left:127px;top:328px;width:1087px;height:1px;background:#000"></div>
<div class="l" style="left:127px;top:366px;width:1087px;height:1px;background:#000"></div>
<div class="l" style="left:127px;top:404px;width:1087px;height:1px;background:#000"></div>
<div class="l" style="left:127px;top:442px;width:1087px;height:1px;background:#000"></div>
<div class="l" style="left:127px;top:480px;width:1087px;height:1px;background:#000"></div>
<div class="l" style="left:127px;top:518px;width:1087px;height:1px;background:#000"></div>
<div class="l" style="left:127px;top:556px;width:1087px;height:1px;background:#000"></div>
<div class="l" style="left:127px;top:594px;width:1087px;height:1px;background:#000"></div>
<div class="l" style="left:127px;top:632px;width:1087px;height:1px;background:#000"></div>
<div class="l" style="left:127px;top:670px;width:1087px;height:1px;background:#000"></div>
<div class="l" style="left:127px;top:708px;width:1087px;height:1px;background:#000"></div>
<div class="l" style="left:127px;top:746px;width:1087px;height:1px;background:#000"></div>
<div class="l" style="left:127px;top:784px;width:1087px;height:1px;background:#000"></div>
<div class="l" style="left:0px;top:822px;width:1214px;height:1px;background:#000"></div>
<div class="l" style="left:127px;top:860px;width:1087px;height:1px;background:#000"></div>
<div class="l" style="left:127px;top:898px;width:1087px;height:1px;background:#000"></div>
<div class="l" style="left:127px;top:936px;width:1087px;height:1px;background:#000"></div>
<div class="l" style="left:127px;top:974px;width:1087px;height:1px;background:#000"></div>
<div class="l" style="left:127px;top:1012px;width:1087px;height:1px;background:#000"></div>
<div class="l" style="left:127px;top:1050px;width:1087px;height:1px;background:#000"></div>
<div class="l" style="left:127px;top:1088px;width:1087px;height:1px;background:#000"></div>
<div class="l" style="left:127px;top:1126px;width:1087px;height:1px;background:#000"></div>
<div class="l" style="left:127px;top:1164px;width:1087px;height:1px;background:#000"></div>
<div class="l" style="left:127px;top:1202px;width:1087px;height:1px;background:#000"></div>
<div class="l" style="left:127px;top:1240px;width:1087px;height:1px;background:#000"></div>
<div class="l" style="left:0px;top:1278px;width:1214px;height:1px;background:#000"></div>
<div class="l" style="left:127px;top:1316px;width:1087px;height:1px;background:#000"></div>
<div class="l" style="left:127px;top:1354px;width:1087px;height:1px;background:#000"></div>
<div class="l" style="left:127px;top:1392px;width:1087px;height:1px;background:#000"></div>
<div class="l" style="left:127px;top:1430px;width:1087px;height:1px;background:#000"></div>
<div class="l" style="left:127px;top:1468px;width:1087px;height:1px;background:#000"></div>
<div class="l" style="left:127px;top:1506px;width:1087px;height:1px;background:#000"></div>
<div class="l" style="left:127px;top:1544px;width:1087px;height:1px;background:#000"></div>
<div class="l" style="left:127px;top:1582px;width:1087px;height:1px;background:#000"></div>
<div class="l" style="left:127px;top:1620px;width:1087px;height:1px;background:#000"></div>
<div class="l" style="left:127px;top:1658px;width:1087px;height:1px;background:#000"></div>
<div class="l" style="left:127px;top:1696px;width:1087px;height:1px;background:#000"></div>
<div class="l" style="left:0px;top:1734px;width:1214px;height:1px;background:#000"></div>
<div class="l" style="left:127px;top:138px;width:1px;height:1596px;background:#000"></div>
<div class="l" style="left:508px;top:100px;width:1px;height:1634px;background:#000"></div>
<div class="l" style="left:611px;top:100px;width:1px;height:1634px;background:#000"></div>
<div class="l" style="left:766px;top:100px;width:1px;height:1634px;background:#000"></div>
<div class="l" style="left:990px;top:100px;width:1px;height:1634px;background:#000"></div>
<style>.ax{font-family:"Liberation Sans",sans-serif;font-size:16px;letter-spacing:0.1px;fill:#595959} .xl{font-family:"Liberation Sans",sans-serif;font-size:15px;letter-spacing:0.8px;fill:#595959} .lg{font-family:"Liberation Sans",sans-serif;font-size:17.6px;fill:#595959} .tt{font-family:"Liberation Sans",sans-serif;font-size:24px;font-weight:bold;fill:#595959}</style><svg class="l" style="left:0;top:1735px" width="1215" height="820" viewBox="0 1735 1215 820"><rect x="2.75" y="1738.75" width="590.5" height="408.5" fill="#fff" stroke="#D9D9D9" stroke-width="1.5"/>
<line x1="80" y1="1761" x2="523" y2="1761" stroke="#D9D9D9" stroke-width="1.3"/>
<line x1="80" y1="1812" x2="523" y2="1812" stroke="#D9D9D9" stroke-width="1.3"/>
<line x1="80" y1="1863" x2="523" y2="1863" stroke="#D9D9D9" stroke-width="1.3"/>
<line x1="80" y1="1914" x2="523" y2="1914" stroke="#D9D9D9" stroke-width="1.3"/>
<line x1="80" y1="1965" x2="523" y2="1965" stroke="#D9D9D9" stroke-width="1.3"/>
<line x1="80" y1="2016" x2="523" y2="2016" stroke="#D9D9D9" stroke-width="1.3"/>
<line x1="80" y1="2016" x2="80" y2="2022" stroke="#D9D9D9" stroke-width="1.3"/>
<line x1="149.3" y1="2016" x2="149.3" y2="2022" stroke="#D9D9D9" stroke-width="1.3"/>
<line x1="219.5" y1="2016" x2="219.5" y2="2022" stroke="#D9D9D9" stroke-width="1.3"/>
<line x1="290" y1="2016" x2="290" y2="2022" stroke="#D9D9D9" stroke-width="1.3"/>
<line x1="360" y1="2016" x2="360" y2="2022" stroke="#D9D9D9" stroke-width="1.3"/>
<line x1="430.7" y1="2016" x2="430.7" y2="2022" stroke="#D9D9D9" stroke-width="1.3"/>
<line x1="501.5" y1="2016" x2="501.5" y2="2022" stroke="#D9D9D9" stroke-width="1.3"/>
<text x="69" y="1766.5" text-anchor="end" class="ax">90,000</text>
<text x="69" y="1817.5" text-anchor="end" class="ax">85,000</text>
<text x="69" y="1868.5" text-anchor="end" class="ax">80,000</text>
<text x="69" y="1919.5" text-anchor="end" class="ax">75,000</text>
<text x="69" y="1970.5" text-anchor="end" class="ax">70,000</text>
<text x="69" y="2021.5" text-anchor="end" class="ax">65,000</text>
<text x="535.5" y="1766.5" class="ax">800</text>
<text x="535.5" y="1809.0" class="ax">600</text>
<text x="535.5" y="1851.5" class="ax">400</text>
<text x="535.5" y="1894.0" class="ax">200</text>
<text x="535.5" y="1936.5" class="ax">0</text>
<text x="535.5" y="1979.0" class="ax">-200</text>
<text x="535.5" y="2021.5" class="ax">-400</text>
<text x="80" y="2027" transform="rotate(90 80 2027)" dy="5.5" class="xl">2024/02</text>
<text x="149.3" y="2027" transform="rotate(90 149.3 2027)" dy="5.5" class="xl">2024/04</text>
<text x="219.5" y="2027" transform="rotate(90 219.5 2027)" dy="5.5" class="xl">2024/06</text>
<text x="290" y="2027" transform="rotate(90 290 2027)" dy="5.5" class="xl">2024/08</text>
<text x="360" y="2027" transform="rotate(90 360 2027)" dy="5.5" class="xl">2024/10</text>
<text x="430.7" y="2027" transform="rotate(90 430.7 2027)" dy="5.5" class="xl">2024/12</text>
<text x="501.5" y="2027" transform="rotate(90 501.5 2027)" dy="5.5" class="xl">2025/02</text>
<polygon points="80.0,1930.3 80.0,1924.5 83.9,1923.8 85.8,1928.0 87.4,1925.7 100.2,1906.0 100.9,1930.3 102.0,1930.3 103.0,1957.0 104.8,1941.9 107.1,1937.3 110.6,1938.5 112.9,1944.3 116.4,1947.8 119.2,1953.6 122.2,1944.3 125.7,1935.0 128.0,1930.3 129.9,1930.3 131.5,1944.3 135.0,1960.5 139.6,1967.5 143.8,1974.4 146.6,1955.9 150.1,1941.9 151.2,1944.3 154.7,1944.3 158.2,1941.9 161.7,1939.6 164.0,1930.3 165.2,1907.1 165.6,1930.3 166.3,1930.3 167.5,1969.8 172.1,1976.8 176.8,1975.6 182.6,1962.8 190.7,1958.2 191.9,1944.3 198.8,1939.6 200.0,1921.1 200.7,1930.3 201.2,1930.3 202.3,1981.4 207.0,2000.0 209.3,1988.4 216.2,1989.5 218.6,1948.9 223.2,1944.3 229.0,1939.6 232.5,1932.7 234.8,1907.1 237.6,1902.5 239.0,1930.3 240.6,1930.3 241.8,1972.1 242.9,1988.4 247.6,1960.5 249.9,1953.6 251.1,1948.9 255.7,1944.3 257.6,1930.3 262.7,1930.3 267.3,1926.9 269.6,1914.1 271.5,1930.3 272.4,1958.2 273.8,1930.3 276.6,1928.0 281.2,1925.7 282.4,1935.0 287.0,1932.7 290.1,1930.8 290.0,1930.8 292.3,1932.7 294.6,1930.3 299.3,1925.7 303.9,1923.4 310.9,1916.4 312.1,1925.7 314.4,1928.0 317.9,1930.8 320.2,1929.2 324.8,1923.4 328.3,1911.8 331.8,1923.4 336.4,1925.7 339.9,1924.5 345.7,1921.1 350.8,1912.9 352.7,1911.8 355.0,1929.2 356.2,1930.3 357.3,1930.3 367.8,1912.9 370.1,1912.9 373.1,1930.3 377.0,1930.3 378.2,1937.3 382.9,1941.9 387.5,1944.3 392.1,1943.8 394.9,1935.0 395.6,1930.3 397.2,1930.3 398.6,1921.1 401.4,1923.4 404.9,1925.7 407.2,1930.3 410.7,1930.3 413.0,1907.1 416.5,1911.8 420.0,1916.4 424.6,1919.9 430.4,1923.4 433.9,1925.7 438.6,1923.4 447.8,1907.1 452.5,1911.8 457.1,1914.1 460.6,1918.7 461.8,1930.3 462.2,1936.1 464.1,1938.5 466.0,1935.0 466.9,1930.3 468.3,1930.3 471.1,1918.7 476.9,1900.2 479.2,1895.5 483.8,1902.5 487.3,1916.4 489.2,1930.3 490.8,1930.3 493.8,1941.9 498.9,1937.3 505.9,1930.3 507.0,1925.7 508.7,1930.3 510.5,1930.3 516.3,1929.2 519.8,1911.8 522.1,1906.0 522.8,1930.3 522.8,1948.9 523.3,1930.3" fill="#ED7D31"/>
<polyline points="80.4,1972.1 85.1,1977.9 88.6,1987.2 100.2,1980.3 104.8,1971.0 109.5,1976.8 116.4,1975.6 119.9,1972.1 122.2,1968.6 125.7,1969.8 128.0,1966.3 129.2,1944.3 133.8,1932.7 137.3,1941.9 140.8,1939.6 143.8,1946.6 148.9,1936.1 158.2,1903.6 165.2,1897.8 167.5,1894.4 169.8,1870.0 173.3,1858.4 176.3,1880.4 179.1,1860.7 183.7,1846.8 190.7,1853.7 193.0,1866.5 198.8,1849.1 202.3,1835.2 206.3,1787.6 209.3,1801.5 210.4,1831.7 215.1,1815.4 218.6,1842.1 223.7,1841.0 224.4,1860.7 227.8,1847.9 231.3,1865.3 236.0,1871.2 239.5,1878.1 242.9,1866.5 248.7,1888.6 253.4,1883.9 255.7,1883.9 258.0,1863.0 265.0,1861.9 267.8,1873.5 270.8,1861.9 274.3,1879.3 275.4,1900.2 280.1,1904.8 282.4,1930.3 284.7,1916.4 287.0,1930.3 290.1,1912.9 290.0,1912.9 292.3,1930.3 295.8,1947.8 298.1,1957.0 301.6,1950.1 303.9,1939.6 308.6,1925.7 310.9,1921.1 314.4,1928.0 320.2,1911.8 323.7,1923.4 327.1,1923.4 329.5,1941.9 332.9,1941.9 335.3,1944.3 338.7,1916.4 345.7,1916.4 349.2,1902.5 351.5,1907.1 353.8,1883.9 356.2,1872.3 359.6,1872.3 368.9,1878.1 371.2,1888.6 375.9,1885.1 379.4,1897.8 384.0,1887.4 386.3,1895.5 392.1,1897.8 396.8,1899.0 401.4,1883.9 403.7,1895.5 406.1,1890.9 409.5,1897.8 411.9,1928.0 415.3,1923.4 418.8,1914.1 422.3,1921.1 424.6,1918.7 427.0,1924.5 433.9,1916.4 437.4,1919.9 443.2,1904.8 447.8,1915.3 452.5,1923.4 459.5,1918.7 466.4,1921.1 469.9,1931.5 475.7,1914.1 480.3,1906.0 485.0,1897.8 487.3,1904.8 493.1,1912.9 501.2,1910.6 508.2,1909.5 510.5,1893.2 515.2,1895.5 518.6,1886.2 523.3,1894.4" fill="none" stroke="#4472C4" stroke-width="4" stroke-linejoin="round" stroke-linecap="round"/>
<rect x="36" y="2114" width="40" height="11" fill="#ED7D31"/>
<text x="82" y="2126" class="lg">升贴水均价:铜（1#）</text>
<line x1="254" y1="2120" x2="296" y2="2120" stroke="#4472C4" stroke-width="4" stroke-linecap="round"/>
<text x="302" y="2126" class="lg">中国:平均价:铜(1#):长江有色市场</text><rect x="597.75" y="1739.75" width="614.5" height="404.5" fill="#fff" stroke="#D9D9D9" stroke-width="1.5"/>
<line x1="674.7" y1="1762" x2="1141" y2="1762" stroke="#D9D9D9" stroke-width="1.3"/>
<line x1="674.7" y1="1811.8" x2="1141" y2="1811.8" stroke="#D9D9D9" stroke-width="1.3"/>
<line x1="674.7" y1="1861.6" x2="1141" y2="1861.6" stroke="#D9D9D9" stroke-width="1.3"/>
<line x1="674.7" y1="1911.4" x2="1141" y2="1911.4" stroke="#D9D9D9" stroke-width="1.3"/>
<line x1="674.7" y1="1961.2" x2="1141" y2="1961.2" stroke="#D9D9D9" stroke-width="1.3"/>
<line x1="674.7" y1="2011" x2="1141" y2="2011" stroke="#D9D9D9" stroke-width="1.3"/>
<line x1="674.7" y1="2011" x2="674.7" y2="2017" stroke="#D9D9D9" stroke-width="1.3"/>
<line x1="748.2" y1="2011" x2="748.2" y2="2017" stroke="#D9D9D9" stroke-width="1.3"/>
<line x1="821.7" y1="2011" x2="821.7" y2="2017" stroke="#D9D9D9" stroke-width="1.3"/>
<line x1="895.9" y1="2011" x2="895.9" y2="2017" stroke="#D9D9D9" stroke-width="1.3"/>
<line x1="970" y1="2011" x2="970" y2="2017" stroke="#D9D9D9" stroke-width="1.3"/>
<line x1="1044.1" y1="2011" x2="1044.1" y2="2017" stroke="#D9D9D9" stroke-width="1.3"/>
<line x1="1118.8" y1="2011" x2="1118.8" y2="2017" stroke="#D9D9D9" stroke-width="1.3"/>
<text x="663.5" y="1767.5" text-anchor="end" class="ax">22,000</text>
<text x="663.5" y="1817.3" text-anchor="end" class="ax">21,000</text>
<text x="663.5" y="1867.1" text-anchor="end" class="ax">20,000</text>
<text x="663.5" y="1916.9" text-anchor="end" class="ax">19,000</text>
<text x="663.5" y="1966.7" text-anchor="end" class="ax">18,000</text>
<text x="663.5" y="2016.5" text-anchor="end" class="ax">17,000</text>
<text x="1154.5" y="1767.5" class="ax">400</text>
<text x="1154.5" y="1809.0" class="ax">300</text>
<text x="1154.5" y="1850.5" class="ax">200</text>
<text x="1154.5" y="1892.0" class="ax">100</text>
<text x="1154.5" y="1933.5" class="ax">0</text>
<text x="1154.5" y="1975.0" class="ax">-100</text>
<text x="1154.5" y="2016.5" class="ax">-200</text>
<text x="674.7" y="2022" transform="rotate(90 674.7 2022)" dy="5.5" class="xl">2024/02</text>
<text x="748.2" y="2022" transform="rotate(90 748.2 2022)" dy="5.5" class="xl">2024/04</text>
<text x="821.7" y="2022" transform="rotate(90 821.7 2022)" dy="5.5" class="xl">2024/06</text>
<text x="895.9" y="2022" transform="rotate(90 895.9 2022)" dy="5.5" class="xl">2024/08</text>
<text x="970" y="2022" transform="rotate(90 970 2022)" dy="5.5" class="xl">2024/10</text>
<text x="1044.1" y="2022" transform="rotate(90 1044.1 2022)" dy="5.5" class="xl">2024/12</text>
<text x="1118.8" y="2022" transform="rotate(90 1118.8 2022)" dy="5.5" class="xl">2025/02</text>
<polygon points="674.7,1928.2 675.9,1935.0 678.3,1935.0 679.5,1928.2 681.4,1911.5 696.4,1924.1 697.6,1928.2 698.8,1933.8 701.3,1936.2 704.9,1938.1 707.3,1935.0 708.5,1928.9 709.7,1928.2 712.1,1936.2 715.8,1943.4 723.0,1943.4 724.2,1928.2 726.7,1916.3 728.3,1928.2 730.3,1948.3 737.5,1957.9 743.6,1965.2 745.3,1972.4 747.2,1965.2 755.7,1964.0 759.3,1948.3 760.5,1928.2 761.7,1928.2 762.9,1938.6 766.5,1960.3 771.4,1948.3 781.1,1948.3 783.5,1951.9 789.5,1953.1 791.9,1959.1 798.0,1948.3 800.4,1928.2 802.8,1928.2 804.0,1953.1 810.1,1984.5 813.0,1972.4 819.7,1988.2 827.0,1953.1 835.5,1928.2 839.6,1921.2 841.5,1928.2 842.7,1938.6 848.8,1950.7 856.0,1960.3 858.4,1958.4 863.3,1948.3 872.9,1928.2 875.3,1923.6 876.6,1943.4 883.8,1955.5 889.9,1943.4 894.2,1948.3 895.0,1948.3 899.8,1948.3 909.5,1943.4 911.9,1928.2 913.1,1928.2 915.6,1957.9 921.6,1960.3 927.6,1968.8 933.7,1960.3 940.9,1938.6 944.6,1928.9 947.0,1922.9 954.2,1913.2 955.0,1928.2 956.7,1950.7 962.7,1947.1 978.4,1947.1 983.2,1928.2 986.9,1916.3 988.1,1928.2 990.5,1931.8 994.1,1928.2 999.0,1916.8 1006.2,1914.4 1013.5,1895.1 1020.7,1904.7 1023.1,1914.4 1025.6,1895.1 1028.0,1912.0 1031.6,1895.1 1037.6,1899.9 1042.5,1919.2 1044.9,1928.2 1047.3,1919.2 1050.9,1915.6 1054.6,1924.1 1055.8,1928.2 1059.4,1933.8 1064.2,1962.8 1066.7,1976.1 1073.9,1943.4 1076.3,1938.6 1082.4,1928.2 1088.4,1928.2 1093.3,1941.0 1100.5,1965.2 1107.8,1938.6 1112.6,1935.0 1122.3,1941.0 1127.1,1943.4 1131.9,1943.4 1135.6,1941.0 1141.6,1950.7 1141.6,1928.2" fill="#ED7D31"/>
<polyline points="674.7,1915.6 678.3,1927.7 681.4,1913.2 684.3,1916.8 696.4,1922.9 698.8,1916.8 701.3,1916.8 703.7,1926.5 707.3,1916.8 709.7,1914.4 713.4,1909.6 717.0,1902.3 719.4,1907.2 723.0,1902.3 726.7,1899.9 731.5,1895.1 733.9,1891.4 737.5,1895.1 740.0,1887.8 742.4,1897.5 744.8,1885.4 748.4,1881.8 752.0,1868.5 755.7,1858.8 758.1,1854.0 760.5,1832.2 764.1,1822.5 766.5,1854.0 770.2,1841.9 772.6,1825.0 775.0,1857.6 778.6,1834.6 782.3,1837.0 785.9,1832.2 790.7,1829.8 793.1,1846.7 795.6,1832.2 798.0,1840.7 800.4,1839.5 802.8,1825.0 806.4,1818.9 809.3,1806.8 811.3,1827.4 813.7,1822.5 817.3,1806.8 819.0,1775.4 820.9,1802.0 824.6,1804.4 827.0,1802.0 830.6,1810.4 834.2,1822.5 837.9,1837.0 841.5,1844.3 845.1,1837.0 848.8,1849.1 852.4,1858.8 856.0,1852.8 858.4,1858.8 862.1,1840.7 864.5,1849.1 866.9,1843.1 870.5,1861.2 875.3,1858.8 879.0,1885.4 883.8,1895.1 887.4,1912.0 889.9,1899.9 893.5,1916.8 895.0,1899.9 897.4,1916.8 902.3,1924.1 905.9,1909.6 909.5,1914.4 913.1,1915.6 915.6,1895.1 921.6,1874.5 928.8,1869.7 931.3,1885.4 934.9,1883.0 938.5,1895.1 943.4,1907.2 948.2,1873.3 954.2,1868.5 956.7,1858.8 960.3,1878.1 963.9,1849.1 967.5,1841.9 974.8,1834.6 979.6,1839.5 982.0,1825.0 986.9,1820.1 990.5,1837.0 992.9,1822.5 996.5,1820.1 999.0,1806.8 1002.6,1812.9 1005.0,1823.7 1008.6,1825.0 1012.3,1820.1 1015.9,1774.2 1020.7,1786.3 1023.1,1829.8 1026.8,1820.1 1029.2,1837.0 1031.6,1820.1 1035.2,1829.8 1038.9,1827.4 1042.5,1844.3 1047.3,1849.1 1049.7,1831.0 1053.4,1844.3 1055.8,1839.5 1059.4,1841.9 1064.2,1858.8 1066.7,1880.6 1070.3,1866.1 1073.9,1870.9 1077.5,1875.7 1080.0,1876.9 1083.6,1866.1 1088.4,1880.6 1092.1,1876.9 1095.7,1851.5 1099.3,1863.6 1101.7,1843.1 1105.3,1851.5 1107.8,1845.5 1113.8,1857.6 1124.7,1852.8 1128.3,1837.0 1131.9,1828.6 1136.8,1832.2 1141.6,1838.2" fill="none" stroke="#4472C4" stroke-width="4" stroke-linejoin="round" stroke-linecap="round"/>
<rect x="636" y="2107.5" width="39" height="11" fill="#ED7D31"/>
<text x="680" y="2119.5" class="lg">升贴水均价:铝锭(A00)</text>
<line x1="858" y1="2113" x2="902" y2="2113" stroke="#4472C4" stroke-width="4" stroke-linecap="round"/>
<text x="906" y="2119.5" class="lg">中国:平均价:铝(A00):长江有色市场</text><rect x="2.75" y="2148.75" width="596.5" height="398.0" fill="#fff" stroke="#D9D9D9" stroke-width="1.5"/>
<line x1="63.2" y1="2170.2" x2="531.3" y2="2170.2" stroke="#D9D9D9" stroke-width="1.3"/>
<line x1="63.2" y1="2202.7" x2="531.3" y2="2202.7" stroke="#D9D9D9" stroke-width="1.3"/>
<line x1="63.2" y1="2235.2" x2="531.3" y2="2235.2" stroke="#D9D9D9" stroke-width="1.3"/>
<line x1="63.2" y1="2267.7" x2="531.3" y2="2267.7" stroke="#D9D9D9" stroke-width="1.3"/>
<line x1="63.2" y1="2300.2" x2="531.3" y2="2300.2" stroke="#D9D9D9" stroke-width="1.3"/>
<line x1="63.2" y1="2332.7" x2="531.3" y2="2332.7" stroke="#D9D9D9" stroke-width="1.3"/>
<line x1="63.2" y1="2365.2" x2="531.3" y2="2365.2" stroke="#D9D9D9" stroke-width="1.3"/>
<line x1="63.2" y1="2397.8" x2="531.3" y2="2397.8" stroke="#D9D9D9" stroke-width="1.3"/>
<line x1="63.2" y1="2397.8" x2="63.2" y2="2403.8" stroke="#D9D9D9" stroke-width="1.3"/>
<line x1="138.7" y1="2397.8" x2="138.7" y2="2403.8" stroke="#D9D9D9" stroke-width="1.3"/>
<line x1="213.6" y1="2397.8" x2="213.6" y2="2403.8" stroke="#D9D9D9" stroke-width="1.3"/>
<line x1="288.5" y1="2397.8" x2="288.5" y2="2403.8" stroke="#D9D9D9" stroke-width="1.3"/>
<line x1="364.5" y1="2397.8" x2="364.5" y2="2403.8" stroke="#D9D9D9" stroke-width="1.3"/>
<line x1="440" y1="2397.8" x2="440" y2="2403.8" stroke="#D9D9D9" stroke-width="1.3"/>
<line x1="514.9" y1="2397.8" x2="514.9" y2="2403.8" stroke="#D9D9D9" stroke-width="1.3"/>
<text x="52.5" y="2175.7" text-anchor="end" class="ax">6,100</text>
<text x="52.5" y="2208.2" text-anchor="end" class="ax">5,600</text>
<text x="52.5" y="2240.7" text-anchor="end" class="ax">5,100</text>
<text x="52.5" y="2273.2" text-anchor="end" class="ax">4,600</text>
<text x="52.5" y="2305.7" text-anchor="end" class="ax">4,100</text>
<text x="52.5" y="2338.2" text-anchor="end" class="ax">3,600</text>
<text x="52.5" y="2370.7" text-anchor="end" class="ax">3,100</text>
<text x="52.5" y="2403.3" text-anchor="end" class="ax">2,600</text>
<text x="63.2" y="2408.8" transform="rotate(90 63.2 2408.8)" dy="5.5" class="xl">2024/02</text>
<text x="138.7" y="2408.8" transform="rotate(90 138.7 2408.8)" dy="5.5" class="xl">2024/04</text>
<text x="213.6" y="2408.8" transform="rotate(90 213.6 2408.8)" dy="5.5" class="xl">2024/06</text>
<text x="288.5" y="2408.8" transform="rotate(90 288.5 2408.8)" dy="5.5" class="xl">2024/08</text>
<text x="364.5" y="2408.8" transform="rotate(90 364.5 2408.8)" dy="5.5" class="xl">2024/10</text>
<text x="440" y="2408.8" transform="rotate(90 440 2408.8)" dy="5.5" class="xl">2024/12</text>
<text x="514.9" y="2408.8" transform="rotate(90 514.9 2408.8)" dy="5.5" class="xl">2025/02</text>
<text x="543.5" y="2175.7" class="ax">1500</text>
<text x="543.5" y="2221.2" class="ax">1000</text>
<text x="543.5" y="2266.7" class="ax">500</text>
<text x="543.5" y="2312.3" class="ax">0</text>
<text x="543.5" y="2357.8" class="ax">-500</text>
<text x="543.5" y="2403.3" class="ax">-1000</text>
<polygon points="63.5,2305.8 63.5,2283.3 78.0,2282.1 81.6,2297.8 88.8,2293.0 96.1,2293.0 100.9,2300.2 104.6,2297.8 108.2,2302.6 109.4,2305.8 114.2,2309.9 116.7,2312.8 120.3,2305.8 125.1,2305.8 132.4,2312.3 144.5,2314.7 151.7,2329.2 159.0,2322.0 163.8,2338.9 169.8,2324.4 175.9,2322.0 180.7,2314.7 183.1,2305.8 185.6,2300.2 186.8,2305.8 188.0,2305.8 192.8,2336.5 197.6,2319.6 202.5,2305.8 207.3,2295.4 212.2,2299.0 217.0,2295.4 221.8,2300.2 225.5,2288.1 229.1,2300.2 236.3,2293.0 243.6,2305.8 246.0,2301.4 253.3,2302.6 255.7,2288.1 262.9,2290.6 267.8,2285.7 272.6,2284.5 278.6,2276.1 283.5,2288.1 287.1,2284.5 290.0,2305.8 290.0,2305.8 291.2,2291.8 292.9,2305.8 319.0,2305.8 322.6,2295.4 326.3,2301.4 329.9,2297.8 333.5,2302.6 334.7,2305.8 350.4,2305.8 355.3,2309.9 365.0,2315.9 372.2,2341.3 374.6,2326.8 379.5,2314.7 383.1,2319.6 385.5,2309.9 386.7,2305.8 389.1,2305.8 390.3,2312.3 391.5,2305.8 392.8,2305.8 394.0,2285.7 397.6,2283.3 400.0,2291.8 402.4,2285.7 404.8,2296.6 408.5,2288.1 412.1,2271.2 416.9,2273.6 419.4,2266.4 424.2,2271.2 429.0,2251.9 432.6,2264.0 436.3,2274.8 439.9,2251.9 444.7,2244.6 449.6,2255.5 454.4,2213.2 460.5,2210.8 464.1,2218.0 468.9,2225.3 473.8,2203.5 477.4,2190.2 481.0,2199.9 488.3,2218.0 489.5,2256.7 493.1,2264.0 497.9,2285.7 500.3,2305.8 501.6,2398.2 511.2,2398.2 512.4,2307.5 513.6,2305.8 514.9,2280.9 518.5,2295.4 523.3,2302.6 525.7,2307.5 530.6,2317.2 530.6,2305.8" fill="#ED7D31"/>
<polyline points="63.5,2360.7 78.0,2363.1 81.6,2351.0 86.4,2353.4 88.8,2357.1 98.5,2358.3 99.7,2352.2 103.4,2354.6 108.2,2355.8 111.8,2347.4 117.9,2346.2 120.3,2351.0 127.5,2348.6 130.0,2347.4 137.2,2348.6 142.0,2346.2 146.9,2338.9 151.7,2334.1 156.5,2340.1 160.2,2319.6 163.8,2322.0 167.4,2319.6 173.5,2314.7 175.9,2319.6 180.7,2319.6 183.1,2326.8 188.0,2317.2 192.8,2295.4 195.2,2300.2 200.1,2302.6 204.9,2309.9 207.3,2319.6 212.2,2317.2 215.8,2319.6 221.8,2317.2 225.5,2325.6 229.1,2317.2 233.9,2319.6 236.3,2322.0 243.6,2315.9 248.4,2317.2 253.3,2315.9 254.5,2325.6 260.5,2322.0 267.8,2324.4 270.2,2326.8 273.8,2326.8 278.6,2334.1 283.5,2322.0 287.1,2328.0 290.0,2319.6 290.0,2326.8 292.4,2312.3 297.3,2311.1 302.1,2299.0 304.5,2307.5 309.3,2311.1 314.2,2308.7 317.8,2306.3 321.4,2315.9 323.8,2312.3 326.3,2314.7 329.9,2308.7 333.5,2314.7 335.9,2309.9 340.8,2300.2 345.6,2301.4 348.0,2306.3 351.7,2291.8 357.7,2288.1 365.0,2284.5 369.8,2256.7 372.2,2251.9 375.8,2250.7 380.7,2242.2 385.5,2235.0 389.1,2242.2 394.0,2250.7 398.8,2239.8 403.6,2225.3 407.3,2215.6 410.9,2230.1 413.3,2225.3 418.1,2212.0 421.8,2221.7 425.4,2218.0 429.0,2230.1 432.6,2220.4 436.3,2208.4 441.1,2225.3 444.7,2232.5 449.6,2224.1 454.4,2222.9 455.6,2256.7 460.5,2260.3 464.1,2256.7 467.7,2250.7 471.3,2261.5 475.0,2283.3 478.6,2293.0 483.4,2302.6 485.8,2301.4 489.5,2326.8 491.9,2313.5 495.5,2317.2 500.3,2329.2 507.6,2334.1 512.4,2341.3 517.3,2337.7 520.9,2346.2 525.7,2345.0 530.6,2341.3" fill="none" stroke="#4472C4" stroke-width="4" stroke-linejoin="round" stroke-linecap="round"/>
<polyline points="63.5,2345.4 79.2,2345.4 91.3,2346.7 103.4,2349.8 117.9,2352.2 132.4,2353.9 146.9,2354.1 156.5,2353.4 161.4,2347.4 166.2,2342.5 173.5,2338.9 177.1,2325.6 183.1,2322.5 190.4,2321.5 194.0,2316.7 200.1,2311.1 224.2,2311.6 248.4,2311.8 272.6,2311.1 290.0,2311.8 290.0,2312.3 314.2,2307.5 338.4,2305.1 350.4,2295.4 365.0,2293.0 369.8,2285.7 374.6,2268.8 381.9,2256.7 391.5,2237.4 398.8,2228.9 403.6,2210.8 408.5,2204.7 413.3,2197.5 420.6,2192.6 427.8,2190.2 435.1,2188.5 439.9,2187.1 449.6,2187.8 459.2,2191.4 468.9,2196.3 473.8,2203.5 478.6,2215.6 485.8,2235.0 488.3,2256.7 490.7,2280.9 495.5,2290.6 500.3,2314.7 512.4,2320.8 516.1,2324.4 518.5,2331.7 522.1,2337.7 524.5,2349.8 530.6,2351.0" fill="none" stroke="#C00000" stroke-width="5" stroke-linejoin="round" stroke-linecap="round"/>
<rect x="12" y="2494" width="39.5" height="13" fill="#ED7D31"/>
<text x="57" y="2506.5" class="lg">山西氧化铝基差</text>
<line x1="293" y1="2500" x2="335" y2="2500" stroke="#4472C4" stroke-width="4" stroke-linecap="round"/>
<text x="339.5" y="2506.5" class="lg">期货收盘价(活跃合约):氧化铝</text>
<line x1="10" y1="2522.5" x2="51" y2="2522.5" stroke="#C00000" stroke-width="5" stroke-linecap="round"/>
<text x="57" y="2529" class="lg">山西:平均价:氧化铝(一级)</text><rect x="600.75" y="2150.75" width="609.5" height="394.5" fill="#fff" stroke="#D9D9D9" stroke-width="1.5"/>
<line x1="657.7" y1="2227.5" x2="1138" y2="2227.5" stroke="#D9D9D9" stroke-width="1.3"/>
<line x1="657.7" y1="2253.6428571428573" x2="1138" y2="2253.6428571428573" stroke="#D9D9D9" stroke-width="1.3"/>
<line x1="657.7" y1="2279.785714285714" x2="1138" y2="2279.785714285714" stroke="#D9D9D9" stroke-width="1.3"/>
<line x1="657.7" y1="2305.9285714285716" x2="1138" y2="2305.9285714285716" stroke="#D9D9D9" stroke-width="1.3"/>
<line x1="657.7" y1="2332.0714285714284" x2="1138" y2="2332.0714285714284" stroke="#D9D9D9" stroke-width="1.3"/>
<line x1="657.7" y1="2358.214285714286" x2="1138" y2="2358.214285714286" stroke="#D9D9D9" stroke-width="1.3"/>
<line x1="657.7" y1="2384.3571428571427" x2="1138" y2="2384.3571428571427" stroke="#D9D9D9" stroke-width="1.3"/>
<line x1="657.7" y1="2410.5" x2="1138" y2="2410.5" stroke="#D9D9D9" stroke-width="1.3"/>
<line x1="657.7" y1="2410.5" x2="657.7" y2="2416.5" stroke="#D9D9D9" stroke-width="1.3"/>
<line x1="735.2" y1="2410.5" x2="735.2" y2="2416.5" stroke="#D9D9D9" stroke-width="1.3"/>
<line x1="811.6" y1="2410.5" x2="811.6" y2="2416.5" stroke="#D9D9D9" stroke-width="1.3"/>
<line x1="889.2" y1="2410.5" x2="889.2" y2="2416.5" stroke="#D9D9D9" stroke-width="1.3"/>
<line x1="966.7" y1="2410.5" x2="966.7" y2="2416.5" stroke="#D9D9D9" stroke-width="1.3"/>
<line x1="1044.3" y1="2410.5" x2="1044.3" y2="2416.5" stroke="#D9D9D9" stroke-width="1.3"/>
<line x1="1121.9" y1="2410.5" x2="1121.9" y2="2416.5" stroke="#D9D9D9" stroke-width="1.3"/>
<text x="649" y="2233.0" text-anchor="end" class="ax">6.50</text>
<text x="649" y="2259.1428571428573" text-anchor="end" class="ax">6.00</text>
<text x="649" y="2285.285714285714" text-anchor="end" class="ax">5.50</text>
<text x="649" y="2311.4285714285716" text-anchor="end" class="ax">5.00</text>
<text x="649" y="2337.5714285714284" text-anchor="end" class="ax">4.50</text>
<text x="649" y="2363.714285714286" text-anchor="end" class="ax">4.00</text>
<text x="649" y="2389.8571428571427" text-anchor="end" class="ax">3.50</text>
<text x="649" y="2416.0" text-anchor="end" class="ax">3.00</text>
<text x="657.7" y="2421.5" transform="rotate(90 657.7 2421.5)" dy="5.5" class="xl">2024/02</text>
<text x="735.2" y="2421.5" transform="rotate(90 735.2 2421.5)" dy="5.5" class="xl">2024/04</text>
<text x="811.6" y="2421.5" transform="rotate(90 811.6 2421.5)" dy="5.5" class="xl">2024/06</text>
<text x="889.2" y="2421.5" transform="rotate(90 889.2 2421.5)" dy="5.5" class="xl">2024/08</text>
<text x="966.7" y="2421.5" transform="rotate(90 966.7 2421.5)" dy="5.5" class="xl">2024/10</text>
<text x="1044.3" y="2421.5" transform="rotate(90 1044.3 2421.5)" dy="5.5" class="xl">2024/12</text>
<text x="1121.9" y="2421.5" transform="rotate(90 1121.9 2421.5)" dy="5.5" class="xl">2025/02</text>
<polyline points="658.5,2252.6 673.0,2252.6 676.6,2263.5 677.8,2269.6 682.6,2267.1 686.3,2259.9 692.3,2256.3 694.7,2256.3 696.4,2262.3 699.6,2257.5 703.2,2257.5 709.2,2267.1 712.9,2264.7 717.7,2258.7 722.5,2255.1 726.2,2258.7 729.8,2252.6 735.8,2250.2 740.7,2244.2 744.3,2256.3 747.9,2265.9 752.8,2256.3 757.6,2281.7 762.4,2280.4 770.9,2285.3 774.5,2280.4 778.1,2281.7 781.8,2274.4 785.4,2278.0 790.2,2297.4 793.9,2299.8 797.5,2297.4 802.3,2281.7 808.4,2272.0 810.8,2278.0 816.8,2278.0 820.5,2288.9 824.1,2280.4 828.9,2287.7 835.0,2286.5 838.6,2288.9 843.4,2293.7 850.7,2291.3 855.0,2281.7 857.9,2287.7 862.8,2291.3 867.6,2291.3 872.4,2296.2 878.5,2288.9 883.3,2298.6 889.4,2298.6 890.0,2297.4 894.8,2309.5 899.7,2310.7 904.5,2317.9 906.9,2307.0 913.0,2301.0 919.0,2307.0 923.8,2302.2 928.7,2309.5 933.5,2304.6 938.4,2308.2 948.0,2309.5 952.9,2311.9 969.8,2317.9 973.4,2331.2 975.8,2339.7 981.9,2344.5 989.1,2348.1 992.8,2349.4 996.4,2344.5 1001.2,2348.1 1006.1,2355.4 1013.3,2359.0 1018.1,2361.4 1024.2,2366.3 1032.6,2362.6 1041.1,2371.1 1049.6,2360.2 1059.2,2369.9 1060.5,2348.1 1067.7,2345.7 1075.0,2353.0 1079.8,2331.2 1084.6,2326.4 1089.5,2307.0 1093.1,2308.2 1095.5,2279.2 1097.9,2290.1 1104.0,2286.5 1106.4,2273.2 1110.0,2278.0 1122.1,2262.3 1125.7,2257.5 1129.4,2253.8 1133.0,2243.0 1136.6,2252.6" fill="none" stroke="#ED7D31" stroke-width="4" stroke-linejoin="round" stroke-linecap="round"/>
<text x="903.5" y="2193" text-anchor="middle" class="tt">AL/AO</text>
<line x1="856" y1="2515" x2="898" y2="2515" stroke="#ED7D31" stroke-width="4" stroke-linecap="round"/>
<text x="902.5" y="2521" class="lg">AL/AO</text></svg>
<div class="l" style="left:0px;top:2552px;width:1214px;height:1px;background:#000"></div>
<div class="l" style="left:127px;top:2552px;width:1px;height:228px;background:#000"></div>
<div class="l" style="left:0px;top:2780px;width:1214px;height:1px;background:#000"></div>
<div class="l" style="left:0px;top:2898px;width:1214px;height:1px;background:#000"></div>
<div class="sec" style="left:0;top:2552px;width:127px;height:228px;line-height:228px">简评</div>
<div class="cm" style="left:131px;top:2621.5px">铜方面，截至<i class="h">2</i>月<i class="h">1</i><i class="h">7</i>日周一，全国主流地区铜库存对比上周四增加<i class="h">2</i><i class="h">.</i><i class="h">4</i><i class="h">1</i>万吨至<i class="h">3</i><i class="h">5</i><i class="h">.</i><i class="h">0</i><i class="h">3</i>万吨，总库存较节前增加<i class="h">1</i><i class="h">8</i><i class="h">.</i><i class="h">4</i><i class="h">5</i>万吨。铝方面，<i class="h">2</i>月<i class="h">1</i><i class="h">7</i>日</div>
<div class="cm" style="left:131px;top:2645.0px">国内主流消费地电解铝锭库存<i class="h">8</i><i class="h">1</i><i class="h">.</i><i class="h">8</i><i class="h">0</i>万吨，较上周四增加<i class="h">5</i><i class="h">.</i><i class="h">5</i>万吨；国内主流消费地铝棒库存<i class="h">3</i><i class="h">0</i><i class="h">.</i><i class="h">7</i><i class="h">0</i>万吨，较上周四增加<i class="h">0</i><i class="h">.</i><i class="h">6</i><i class="h">6</i>万吨。整体来</div>
<div class="cm" style="left:131px;top:2668.5px">看，美国<i class="h">1</i>月零售数据弱于预期，市场情绪有所转弱，周一铜铝价格冲高回落，基本面看国内社会库存处于季节性累库，后市重点关注国</div>
<div class="cm" style="left:131px;top:2692.0px">内政策预期。</div>
<div class="bt" style="left:5px;top:2805px">投资咨询业务资格<span style="position:absolute;left:173px">证监发【<i class="h">2</i><i class="h">0</i><i class="h">1</i><i class="h">4</i>】<i class="h">2</i><i class="h">1</i><i class="h">7</i>号</span></div>
<div class="bt" style="left:5px;top:2829px">中原期货研究所</div>
<div class="bt" style="left:5px;top:2853px">作者：刘培洋</div>
<div class="bt" style="left:169px;top:2853px">从业证书：<i class="h" style="transform:scaleX(0.86)">F</i><i class="h">0</i><i class="h">2</i><i class="h">9</i><i class="h">0</i><i class="h">3</i><i class="h">1</i><i class="h">8</i></div>
<div class="bt" style="left:384px;top:2853px">投资咨询：<i class="h" style="transform:scaleX(0.78)">Z</i><i class="h">0</i><i class="h">0</i><i class="h">1</i><i class="h">1</i><i class="h">1</i><i class="h">5</i><i class="h">5</i></div>
<div class="bt" style="left:609px;top:2853px">联系方式：<i class="h">0</i><i class="h">3</i><i class="h">7</i><i class="h">1</i><i class="h" style="transform:scaleX(0.85)">&#8211;</i><i class="h">5</i><i class="h">8</i><i class="h">6</i><i class="h">2</i><i class="h">0</i><i class="h">0</i><i class="h">8</i><i class="h">3</i></div>
<div class="bt" style="left:516px;top:2918px">免责声明</div>
<div class="bt" style="left:5px;top:2941.5px">本报告中的信息由中原期货整理分析，均来源于已公开的资料，报告中的信息分析或所表达的意见并不构成对投资的建议，投资者因报告意见所</div>
<div class="bt" style="left:5px;top:2965.2px">做的判断，以及有可能产生的损失自行承担。期货交易有风险，投资者申请开立期货账户须满足证券期货投资者适当性要求，具备匹配的风险承</div>
<div class="bt" style="left:5px;top:2988.9px">受能力。</div>
<div class="l" style="left:0;top:0;width:1215px;height:1px;background:#000"></div>
<div class="l" style="left:0;top:0;width:1px;height:3027px;background:#000"></div>
<div class="l" style="left:1214px;top:0;width:1px;height:3027px;background:#000"></div>
<div class="l" style="left:0;top:3026px;width:1215px;height:1px;background:#000"></div>
</body></html>
